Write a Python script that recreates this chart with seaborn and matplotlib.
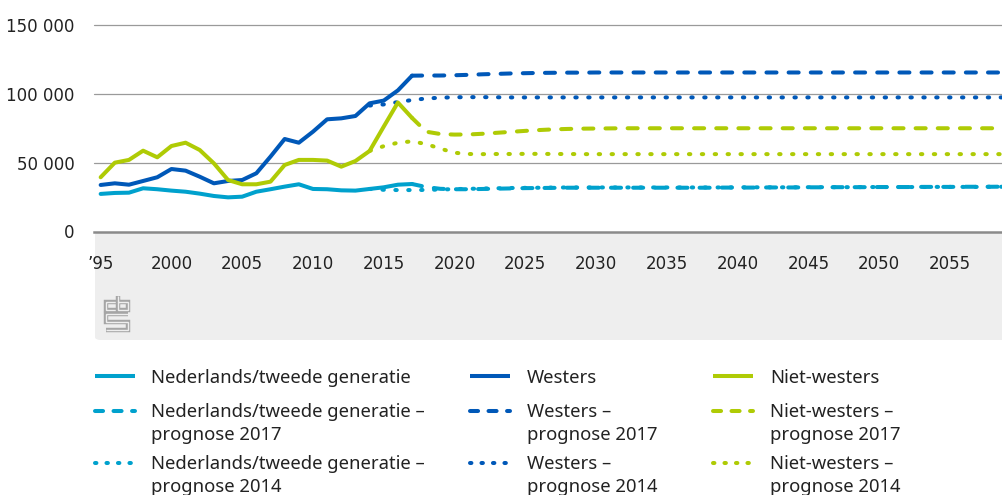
import matplotlib
matplotlib.use("Agg")
import matplotlib.pyplot as plt
import seaborn as sns
import numpy as np
import pandas as pd
from matplotlib.patches import FancyBboxPatch
from matplotlib.lines import Line2D
from matplotlib.ticker import FuncFormatter

# ---------------- data ----------------
years_hist = list(range(1995, 2018))
ned_hist = [27300, 28000, 28200, 31400, 30700, 29700, 28900, 27500, 25800, 24800, 25300,
            28900, 30700, 32600, 34300, 30900, 30700, 29900, 29700, 30900, 32100, 34000, 34500]
west_hist = [33800, 35000, 34000, 36700, 39400, 45400, 44200, 39800, 35000, 36700, 37400,
             42300, 54400, 67200, 64500, 72500, 81500, 82200, 83900, 93100, 95100, 102500, 113200]
niet_hist = [39400, 50000, 52000, 58700, 53900, 62100, 64500, 59200, 49500, 37400, 34300,
             34300, 36200, 48300, 52000, 52000, 51500, 47100, 51200, 58500, 76200, 93700, 82500]

years_p17 = list(range(2017, 2061))
ned_p17 = [34500, 32300, 31000, 30700, 30700, 30900, 31100, 31300, 31500, 31600,
           31700, 31800, 31800, 31800, 31800, 31800, 31800, 31800, 31800, 31800,
           31800, 31800, 31900, 31900, 31900, 32000, 32000, 32000, 32100, 32100,
           32200, 32200, 32200, 32300, 32300, 32300, 32400, 32400, 32400, 32500,
           32500, 32500, 32600, 32600]
west_p17 = [113200, 113300, 113300, 113500, 113800, 114200, 114500, 114800, 115000, 115200,
            115300, 115400, 115400, 115500, 115500, 115500, 115500, 115500, 115500, 115500,
            115500, 115500, 115500, 115500, 115500, 115500, 115500, 115500, 115500, 115500,
            115500, 115500, 115500, 115500, 115500, 115500, 115500, 115500, 115500, 115500,
            115500, 115500, 115500, 115500]
niet_p17 = [82500, 72500, 70800, 70400, 70500, 71000, 71700, 72400, 73100, 73700,
            74200, 74500, 74700, 74800, 74900, 75000, 75000, 75000, 75000, 75000,
            75000, 75000, 75000, 75000, 75000, 75000, 75000, 75000, 75000, 75000,
            75000, 75000, 75000, 75000, 75000, 75000, 75000, 75000, 75000, 75000,
            75000, 75000, 75000, 75000]

years_p14 = list(range(2014, 2061))
ned_p14 = [30900, 30300, 30100, 30100, 30200, 30500, 30800, 31000, 31200, 31400,
           31600, 31700, 31800, 31900, 32000, 32000, 32000, 32000, 32000, 32000,
           32000, 32000, 32000, 32000, 32000, 32000, 32100, 32100, 32100, 32100,
           32100, 32200, 32200, 32200, 32200, 32300, 32300, 32300, 32300, 32300,
           32400, 32400, 32400, 32400, 32500, 32500, 32500]
west_p14 = [91500, 92300, 94000, 95500, 96600, 97200, 97500, 97600, 97600, 97500,
            97400, 97400, 97400, 97400, 97400, 97400, 97400, 97400, 97400, 97400,
            97400, 97400, 97400, 97400, 97400, 97400, 97400, 97400, 97400, 97400,
            97400, 97400, 97400, 97400, 97400, 97400, 97400, 97400, 97400, 97400,
            97400, 97400, 97400, 97400, 97400, 97400, 97400]
niet_p14 = [58500, 62000, 64500, 65500, 63500, 60200, 57200, 56300, 56200, 56300,
            56300, 56400, 56400, 56300, 56300, 56200, 56200, 56200, 56200, 56200,
            56200, 56200, 56200, 56200, 56200, 56200, 56200, 56200, 56200, 56200,
            56200, 56200, 56200, 56200, 56200, 56200, 56200, 56200, 56200, 56200,
            56200, 56200, 56200, 56200, 56200, 56200, 56200]

y_ticks = [0, 50000, 100000, 150000]
x_ticks = [1995, 2000, 2005, 2010, 2015, 2020, 2025, 2030, 2035, 2040, 2045, 2050, 2055]
x_labels = ["\u201995", "2000", "2005", "2010", "2015", "2020", "2025", "2030",
            "2035", "2040", "2045", "2050", "2055"]

C_NED = "#00a1cd"
C_WEST = "#0058b8"
C_NIET = "#afcb05"

legend_rows = [
    [("Nederlands/tweede generatie",), ("Westers",), ("Niet-westers",)],
    [("Nederlands/tweede generatie \u2013", "prognose 2017"), ("Westers \u2013", "prognose 2017"),
     ("Niet-westers \u2013", "prognose 2017")],
    [("Nederlands/tweede generatie \u2013", "prognose 2014"), ("Westers \u2013", "prognose 2014"),
     ("Niet-westers \u2013", "prognose 2014")],
]

# ---------------- figure ----------------
sns.set_style("white")
plt.rcParams["font.family"] = ["DejaVu Sans"]

W, H = 1003, 495
fig = plt.figure(figsize=(W / 100, H / 100), dpi=100)

def fx(px):
    return px / W

def fy(py):
    return 1 - py / H

ax_left, ax_right, ax_top, ax_bot = 94, 1003, 25, 231.5
ax = fig.add_axes([fx(ax_left), fy(ax_bot), fx(ax_right - ax_left), (ax_bot - ax_top) / H])

LW = 2.9
DASH = (0, (2.5, 3.0))
DOT = (0, (0.35, 2.85))

series = [
    (years_p14, ned_p14, C_NED, DOT),
    (years_p14, west_p14, C_WEST, DOT),
    (years_p14, niet_p14, C_NIET, DOT),
    (years_p17, ned_p17, C_NED, DASH),
    (years_p17, west_p17, C_WEST, DASH),
    (years_p17, niet_p17, C_NIET, DASH),
    (years_hist, ned_hist, C_NED, "-"),
    (years_hist, west_hist, C_WEST, "-"),
    (years_hist, niet_hist, C_NIET, "-"),
]
for xs, ys, col, ls in series:
    sns.lineplot(x=xs, y=ys, ax=ax, color=col, linewidth=LW, linestyle=ls,
                 dash_capstyle="round", solid_capstyle="round", solid_joinstyle="round",
                 errorbar=None, legend=False)

ax.set_xlim(1994.53, 2058.75)
ax.set_ylim(0, 150000)
ax.set_yticks(y_ticks)
ax.yaxis.set_major_formatter(FuncFormatter(lambda v, p: f"{int(v):,}".replace(",", " ")))
ax.set_xticks(x_ticks)
ax.set_xticklabels(x_labels)
for v in y_ticks[1:]:
    ax.axhline(v, color="#9a9a9a", lw=0.9, zorder=0.5, clip_on=False)
for s in ["left", "right", "top"]:
    ax.spines[s].set_visible(False)
ax.spines["bottom"].set_color("#8a8a8a")
ax.spines["bottom"].set_linewidth(1.8)
ax.tick_params(axis="y", length=0, pad=14, labelsize=12, labelcolor="#222222")
ax.tick_params(axis="x", direction="out", length=11, width=1, color="#cfcfcf",
               pad=6, labelsize=12, labelcolor="#222222")
ax.set_xlabel("")
ax.set_ylabel("")

# grey band under the x axis
band = FancyBboxPatch((fx(95), fy(340)), fx(1003 - 95) + 0.01, (340 - 232) / H,
                      boxstyle="round,pad=0,rounding_size=0.006",
                      transform=fig.transFigure, facecolor="#eeeeee", edgecolor="none",
                      zorder=-1)
fig.patches.append(band)

# cbs logo (approximate)
logo_paths = [
    [(116, 302), (106, 302), (106, 310), (116, 310)],
    [(118.5, 296), (118.5, 310), (128, 310), (128, 302), (118.5, 302)],
    [(128, 314), (106, 314), (106, 322), (128, 322), (128, 330), (106, 330)],
]
for pts in logo_paths:
    xs = [fx(p[0]) for p in pts]
    ys = [fy(p[1]) for p in pts]
    fig.add_artist(Line2D(xs, ys, color="#a5a5a5", lw=3.2, solid_joinstyle="miter",
                          solid_capstyle="butt", transform=fig.transFigure))
    fig.add_artist(Line2D(xs, ys, color="#eeeeee", lw=1.0, solid_joinstyle="miter",
                          solid_capstyle="butt", transform=fig.transFigure))

# legend (manual, three columns)
leg_font = ["Noto Sans", "DejaVu Sans"]
col_handle_x = [93, 468, 711]
col_text_x = [151, 527, 770]
row_handle_y = [376, 410.5, 462.5]
row_baselines = [[383], [417, 440.5], [469, 492.5]]
row_styles = ["-", (0, (2.0, 2.6)), (0, (0.35, 2.5))]
col_colors = [C_NED, C_WEST, C_NIET]
for r in range(3):
    for c in range(3):
        hy = fy(row_handle_y[r])
        fig.add_artist(Line2D([fx(col_handle_x[c] + 2), fx(col_handle_x[c] + 42)], [hy, hy],
                              color=col_colors[c], lw=LW, linestyle=row_styles[r],
                              dash_capstyle="round", solid_capstyle="butt",
                              transform=fig.transFigure))
        for line, by in zip(legend_rows[r][c], row_baselines[r]):
            fig.text(fx(col_text_x[c]), fy(by), line, family=leg_font, fontsize=13.3,
                     color="#222222", ha="left", va="baseline")

fig.savefig("out.png", dpi=100)
